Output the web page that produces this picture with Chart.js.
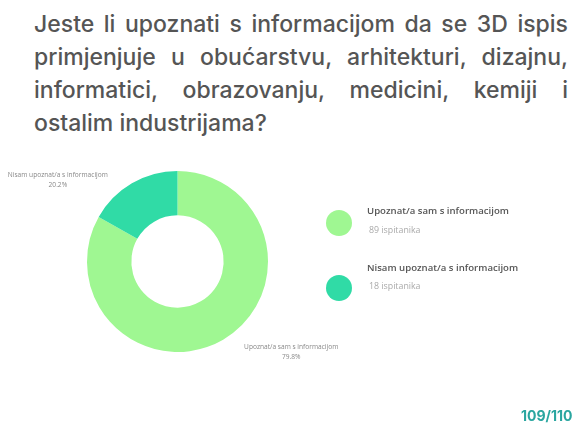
<!DOCTYPE html>
<html>
<head>
<meta charset="utf-8">
<script src="https://cdn.jsdelivr.net/npm/chart.js@4.4.1/dist/chart.umd.min.js"></script>
<style>
  html, body { margin: 0; padding: 0; background: #fff; }
  body { width: 573px; height: 427px; position: relative; overflow: hidden; font-family: Inter, 'Noto Sans', sans-serif; }
  #naslov { position: absolute; left: 34px; top: 8px; width: 534px; color: #555; font-size: 23px; line-height: 33px; font-weight: 500; }
  #naslov div { text-align: justify; text-align-last: justify; white-space: nowrap; }
  #naslov div.zadnji { text-align-last: left; }
  #grafikon { position: absolute; left: 0; top: 0; }
  #stranica { position: absolute; left: 521px; top: 407px; color: #2aa6a0; font-size: 14px; font-weight: 700; white-space: nowrap; }
</style>
</head>
<body>
<div id="naslov">
  <div>Jeste li upoznati s informacijom da se 3D ispis</div>
  <div>primjenjuje u obućarstvu, arhitekturi, dizajnu,</div>
  <div>informatici, obrazovanju, medicini, kemiji i</div>
  <div class="zadnji">ostalim industrijama?</div>
</div>
<canvas id="grafikon" width="573" height="427"></canvas>
<div id="stranica">109/110</div>
<script>
// Podaci ankete
const kategorije = ['Upoznat/a sam s informacijom', 'Nisam upoznat/a s informacijom'];
const ispitanici = [89, 18];
const postoci = ['79.8%', '20.2%'];
const boje = ['#9ff792', '#30dba6'];

// Oznake izvan krafne
const vanjskeOznake = {
    id: 'vanjskeOznake',
    afterDatasetsDraw(chart) {
        const ctx = chart.ctx;
        const lukovi = chart.getDatasetMeta(0).data;
        ctx.save();
        ctx.font = '6.6px "Open Sans", sans-serif';
        ctx.fillStyle = '#888';
        ctx.textAlign = 'center';
        ctx.textBaseline = 'middle';
        lukovi.forEach((luk, i) => {
            const sredina = (luk.startAngle + luk.endAngle) / 2;
            const r = luk.outerRadius + 6;
            let x = luk.x + Math.cos(sredina) * r;
            let y = luk.y + Math.sin(sredina) * r;
            if (i === 0) { x += 65; y += 2; } else { x -= 71; y -= 3; }
            ctx.fillText(kategorije[i], x, y);
            ctx.fillText(postoci[i], x, y + 10);
        });
        ctx.restore();
    }
};

// Legenda desno
const legenda = {
    id: 'legenda',
    afterDraw(chart) {
        const ctx = chart.ctx;
        ctx.save();
        kategorije.forEach((naziv, i) => {
            const y = 223 + i * 65;
            ctx.beginPath();
            ctx.arc(339, y, 13, 0, Math.PI * 2);
            ctx.fillStyle = boje[i];
            ctx.fill();
            ctx.textAlign = 'left';
            ctx.textBaseline = 'middle';
            ctx.font = '600 9.6px "Open Sans", sans-serif';
            ctx.fillStyle = '#555';
            ctx.fillText(naziv, 367, i === 0 ? y - 12 : y - 20);
            ctx.font = '8.8px "Open Sans", sans-serif';
            ctx.fillStyle = '#aaa';
            ctx.fillText(ispitanici[i] + ' ispitanika', 369, i === 0 ? y + 7 : y - 2);
        });
        ctx.restore();
    }
};

new Chart(document.getElementById('grafikon'), {
    type: 'doughnut',
    data: {
        labels: kategorije,
        datasets: [{
            data: ispitanici,
            backgroundColor: boje,
            borderWidth: 0
        }]
    },
    options: {
        responsive: false,
        animation: false,
        cutout: '51%',
        layout: { padding: { left: 87, right: 305, top: 171, bottom: 75 } },
        plugins: {
            legend: { display: false },
            tooltip: { enabled: false }
        }
    },
    plugins: [vanjskeOznake, legenda]
});
</script>
</body>
</html>
